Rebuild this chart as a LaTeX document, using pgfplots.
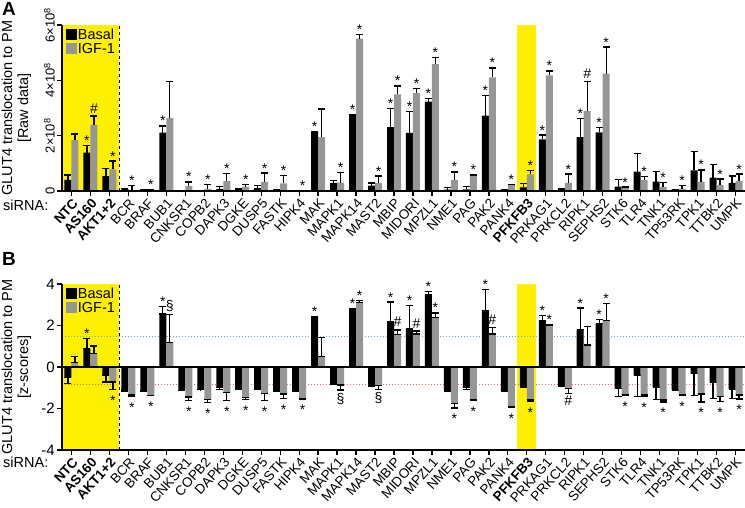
\documentclass[border=0pt]{standalone}
\usepackage{pgfplots}
\usepackage{pgfplotstable}
\pgfplotsset{compat=1.18}
\usepackage{fontspec}
\setmainfont{Liberation Sans}
\definecolor{hl}{RGB}{255,240,0}
\definecolor{bgray}{RGB}{150,150,150}
\definecolor{dblue}{RGB}{110,165,210}
\definecolor{dred}{RGB}{235,100,100}
\newcommand{\fs}[1]{\fontsize{#1}{#1}\selectfont}

\pgfplotstableread{
i bk bkt gr grt
0 0.40 0.58 1.84 2.06
1 1.39 1.65 2.39 2.71
2 0.54 0.82 0.78 1.08
3 0.07 0.10 0.04 0.19
4 0.04 0.04 0.02 0.04
5 2.11 2.35 2.63 3.96
6 0.03 0.03 0.18 0.33
7 0.02 0.02 0.08 0.24
8 0.08 0.16 0.36 0.63
9 0.08 0.10 0.16 0.24
10 0.10 0.19 0.33 0.65
11 0.06 0.06 0.28 0.57
12 0.01 0.01 0.01 0.01
13 2.14 2.16 1.95 2.96
14 0.29 0.37 0.30 0.66
15 2.73 2.75 5.51 5.66
16 0.19 0.29 0.29 0.54
17 2.31 2.98 3.49 3.80
18 2.10 2.87 3.54 3.71
19 3.23 3.34 4.59 4.83
20 0.05 0.12 0.39 0.69
21 0.06 0.16 0.55 0.58
22 2.72 3.45 4.11 4.45
23 0.04 0.05 0.22 0.24
24 0.13 0.27 0.60 0.75
25 1.87 2.02 4.18 4.34
26 0.08 0.10 0.29 0.61
27 1.95 2.63 2.89 3.95
28 2.12 2.29 4.24 5.20
29 0.16 0.41 0.13 0.14
30 0.70 1.36 0.39 0.52
31 0.34 0.70 0.14 0.30
32 0.06 0.06 0.08 0.19
33 0.75 1.42 0.34 0.76
34 0.48 0.96 0.22 0.43
35 0.29 0.54 0.37 0.61
}\dataA

\pgfplotstableread{
i bk bkt gr grt
0 -0.51 -0.79 0.21 0.50
1 0.88 1.36 0.66 1.01
2 -0.38 -0.72 -0.72 -1.07
3 -1.11 -1.15 -1.35 -1.41
4 -1.15 -1.16 -1.36 -1.39
5 2.56 2.93 1.17 2.53
6 -1.12 -1.13 -1.44 -1.60
7 -1.09 -1.10 -1.57 -1.71
8 -0.99 -1.09 -1.23 -1.63
9 -1.04 -1.09 -1.46 -1.55
10 -0.98 -1.06 -1.27 -1.63
11 -1.15 -1.18 -1.30 -1.52
12 -1.19 -1.19 -1.54 -1.54
13 2.42 2.45 0.50 1.41
14 -0.75 -0.82 -0.87 -1.11
15 2.80 2.83 3.12 3.22
16 -0.87 -0.93 -0.90 -1.07
17 2.20 3.13 1.55 1.79
18 1.86 2.96 1.59 1.73
19 3.48 3.64 2.39 2.61
20 -1.12 -1.17 -1.75 -1.97
21 -0.99 -1.07 -1.59 -1.63
22 2.72 3.73 1.59 1.91
23 -1.14 -1.15 -1.91 -1.94
24 -0.91 -0.99 -1.59 -1.67
25 2.23 2.48 1.99 2.04
26 -0.91 -0.93 -1.03 -1.27
27 1.81 2.84 1.06 1.96
28 2.07 2.29 2.23 3.06
29 -1.04 -1.41 -1.35 -1.38
30 -0.38 -1.41 -1.35 -1.41
31 -0.96 -1.55 -1.59 -1.68
32 -1.09 -1.12 -1.33 -1.39
33 -0.32 -1.39 -1.30 -1.68
34 -0.75 -1.51 -1.43 -1.67
35 -1.07 -1.51 -1.35 -1.54
}\dataB

\pgfplotstableread{
i s y
1 -1 1.65
5 -1 2.35
13 -1 2.16
15 -1 2.75
17 -1 2.98
18 -1 2.87
19 -1 3.34
22 -1 3.45
25 -1 2.02
27 -1 2.63
28 -1 2.29
2 1 1.08
3 1 0.19
4 1 0.04
6 1 0.33
7 1 0.24
8 1 0.63
9 1 0.24
10 1 0.65
11 1 0.57
12 1 0.01
14 1 0.66
15 1 5.66
16 1 0.54
17 1 3.80
18 1 3.71
19 1 4.83
20 1 0.69
21 1 0.58
22 1 4.45
23 1 0.24
24 1 0.75
25 1 4.34
26 1 0.61
28 1 5.20
29 1 0.14
30 1 0.52
31 1 0.30
32 1 0.19
33 1 0.76
34 1 0.43
35 1 0.61
}\starA

\pgfplotstableread{
i s y
1 1 2.71
27 1 3.95
}\hashA

\pgfplotstableread{
i s y
1 -1 1.36
5 -1 2.93
13 -1 2.45
15 -1 2.83
15 1 3.22
17 -1 3.13
18 -1 2.96
19 -1 3.64
19 1 2.61
22 -1 3.73
25 -1 2.48
25 1 2.04
27 -1 2.84
28 -1 2.29
28 1 3.06
}\starBa

\pgfplotstableread{
i s y
17 1 1.79
18 1 1.73
22 1 1.91
}\hashBa

\pgfplotstableread{
i s y
5 1 2.53
}\sectBa

\pgfplotstableread{
i s y
2 1 -1.07
3 1 -1.41
4 1 -1.39
6 1 -1.60
7 1 -1.71
8 1 -1.63
9 1 -1.55
10 1 -1.63
11 1 -1.52
12 1 -1.54
20 1 -1.97
21 1 -1.63
23 1 -1.94
24 1 -1.67
29 1 -1.38
30 1 -1.41
31 1 -1.68
32 1 -1.39
33 1 -1.68
34 1 -1.67
35 1 -1.54
}\starBb

\pgfplotstableread{
i s y
14 1 -1.11
16 1 -1.07
}\sectBb

\pgfplotstableread{
i s y
26 1 -1.27
}\hashBb

\pgfplotsset{
  gl/.style={
    scale only axis, width=683pt, height=166pt,
    xmin=-0.5, xmax=35.5,
    axis x line*=bottom, axis y line*=left,
    axis line style={line width=1.3pt, black},
    axis on top,
    tick align=outside, major tick length=5pt,
    tick style={line width=1.3pt, black},
    xtick={0,...,35},
    xticklabels={\textbf{NTC},\textbf{AS160},\textbf{AKT1+2},BCR,BRAF,BUB1,CNKSR1,COPB2,DAPK3,DGKE,DUSP5,FASTK,HIPK4,MAK,MAPK1,MAPK14,MAST2,MBIP,MIDORI,MPZL1,NME1,PAG,PAK2,PANK4,\textbf{PFKFB3},PRKAG1,PRKCL2,RIPK1,SEPHS2,STK6,TLR4,TNK1,TP53RK,TPK1,TTBK2,UMPK},
    x tick label style={rotate=48, anchor=north east, inner sep=1pt, font=\fs{13.5}},
    clip=false,
    every axis y label/.style={at={(axis description cs:-0.040,0.5)}, rotate=90, anchor=south, align=center, font=\fontsize{14.5}{16}\selectfont},
    legend style={at={(axis description cs:0.006,0.985)}, anchor=north west, draw=none, fill=none,
      font=\fs{14.5}, inner sep=0pt, row sep=0pt, nodes={inner sep=1.2pt}},
    legend cell align=left,
  },
  bk/.style={ybar, bar width=7pt, bar shift=0pt, fill=black, draw=none, forget plot},
  gr/.style={ybar, bar width=7pt, bar shift=0pt, fill=bgray, draw=none, forget plot},
  eb/.style={error bars/.cd, y dir=#1, y explicit,
      error bar style={draw=black, line width=1.3pt},
      error mark options={draw=black, rotate=90, mark size=3.5pt, line width=1.3pt}},
  ann/.style 2 args={only marks, mark=none, black, forget plot, nodes near coords={#1},
      every node near coord/.style={anchor=base, inner sep=0pt, font=\fs{14}, yshift=#2}},
}

\begin{document}
\begin{tikzpicture}
\path[use as bounding box] (0,0) rectangle (745pt,507pt);
\node[anchor=north west, inner sep=0pt, font=\bfseries\fs{19}] at (2pt,505pt) {A};
\node[anchor=north west, inner sep=0pt, font=\bfseries\fs{19}] at (2pt,255pt) {B};
\node[anchor=base west, inner sep=0pt, font=\fs{14.5}] at (3pt,296pt) {siRNA:};
\node[anchor=base west, inner sep=0pt, font=\fs{14.5}] at (3pt,40pt) {siRNA:};

% ---------------- Panel A ----------------
\begin{axis}[gl, at={(62pt,316pt)}, anchor=south west,
  ymin=0, ymax=6, ytick={0,2,4,6},
  yticklabels={0,{2×10\textsuperscript{8}},{4×10\textsuperscript{8}},{6×10\textsuperscript{8}}},
  y tick label style={rotate=90, anchor=south, inner sep=2pt, font=\fs{13}},
  ylabel={GLUT4 translocation to PM\\{}[Raw data]},
]
\addlegendimage{legend image code/.code={\fill[black] (0pt,-4pt) rectangle (10pt,6pt);}}
\addlegendentry{Basal}
\addlegendimage{legend image code/.code={\fill[bgray] (0pt,-4pt) rectangle (10pt,6pt);}}
\addlegendentry{IGF-1}
\addplot[fill=hl, draw=none, forget plot] coordinates {(-0.5,0) (2.5,0) (2.5,6) (-0.5,6)};
\addplot[fill=hl, draw=none, forget plot] coordinates {(23.5,0) (24.5,0) (24.5,6) (23.5,6)};
\addplot[black, dashed, line width=0.6pt, forget plot] coordinates {(2.5,0) (2.5,6)};
\addplot[bk, eb=plus] table[x expr=\thisrow{i}-0.1845, y=bk, y error plus expr=\thisrow{bkt}-\thisrow{bk}] {\dataA};
\addplot[gr, eb=plus] table[x expr=\thisrow{i}+0.1845, y=gr, y error plus expr=\thisrow{grt}-\thisrow{gr}] {\dataA};
\addplot[ann={*}{0pt}] table[x expr=\thisrow{i}+0.1845*\thisrow{s}, y=y] {\starA};
\addplot[ann={\#}{3pt}] table[x expr=\thisrow{i}+0.1845*\thisrow{s}, y=y] {\hashA};
\end{axis}

% ---------------- Panel B ----------------
\begin{axis}[gl, at={(62pt,57pt)}, anchor=south west,
  ymin=-4, ymax=4, ytick={-4,-2,0,2,4},
  yticklabels={-4,-2,0,2,4},
  y tick label style={inner sep=2pt, font=\fs{15}},
  ylabel={GLUT4 translocation to PM\\{}[z-scores]},
]
\addlegendimage{legend image code/.code={\fill[black] (0pt,-4pt) rectangle (10pt,6pt);}}
\addlegendentry{Basal}
\addlegendimage{legend image code/.code={\fill[bgray] (0pt,-4pt) rectangle (10pt,6pt);}}
\addlegendentry{IGF-1}
\addplot[fill=hl, draw=none, forget plot] coordinates {(-0.5,-4) (2.5,-4) (2.5,4) (-0.5,4)};
\addplot[fill=hl, draw=none, forget plot] coordinates {(23.5,-4) (24.5,-4) (24.5,4) (23.5,4)};
\addplot[dblue, dash pattern=on 1pt off 2pt, line width=1pt, forget plot] coordinates {(-0.5,1.47) (35.5,1.47)};
\addplot[dred, dash pattern=on 1pt off 2pt, line width=1pt, forget plot] coordinates {(-0.5,-0.84) (35.5,-0.84)};
\addplot[black, dashed, line width=0.6pt, forget plot] coordinates {(2.5,-4) (2.5,4)};
\addplot[bk, eb=both] table[x expr=\thisrow{i}-0.1845, y=bk,
   y error plus expr={max(\thisrow{bkt}-\thisrow{bk},0)},
   y error minus expr={max(\thisrow{bk}-\thisrow{bkt},0)}] {\dataB};
\addplot[gr, eb=both] table[x expr=\thisrow{i}+0.1845, y=gr,
   y error plus expr={max(\thisrow{grt}-\thisrow{gr},0)},
   y error minus expr={max(\thisrow{gr}-\thisrow{grt},0)}] {\dataB};
\addplot[black, line width=1.3pt, forget plot] coordinates {(-0.5,0) (35.5,0)};
\addplot[ann={*}{0pt}] table[x expr=\thisrow{i}+0.1845*\thisrow{s}, y=y] {\starBa};
\addplot[ann={\#}{3pt}] table[x expr=\thisrow{i}+0.1845*\thisrow{s}, y=y] {\hashBa};
\addplot[ann={§}{4pt}] table[x expr=\thisrow{i}+0.1845*\thisrow{s}, y=y] {\sectBa};
\addplot[ann={*}{-16pt}] table[x expr=\thisrow{i}+0.1845*\thisrow{s}, y=y] {\starBb};
\addplot[ann={§}{-13pt}] table[x expr=\thisrow{i}+0.1845*\thisrow{s}, y=y] {\sectBb};
\addplot[ann={\#}{-12pt}] table[x expr=\thisrow{i}+0.1845*\thisrow{s}, y=y] {\hashBb};
\end{axis}
\end{tikzpicture}
\end{document}
